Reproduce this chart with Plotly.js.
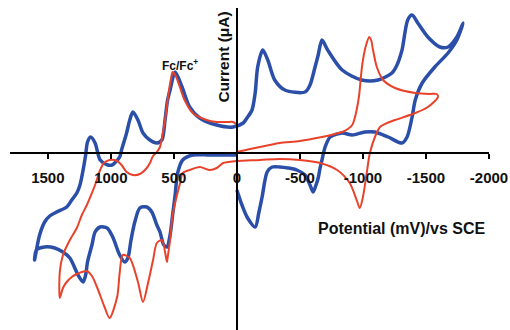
<!DOCTYPE html>
<html>
<head>
<meta charset="utf-8">
<script src="https://cdn.plot.ly/plotly-3.0.1.min.js"></script>
<style>html,body{margin:0;padding:0;background:#fff;}#chart{width:510px;height:330px;}</style>
</head>
<body>
<div id="chart"></div>
<script>
// Potential in mV (vs SCE), current in arbitrary units (uA scale)
const tickValues = [1500, 1000, 500, 0, -500, -1000, -1500, -2000];
const tickLabels = ["1500", "1000", "500", "0", "-500", "-1000", "-1500", "-2000"];

const bluePotential = [
  0,-40,-85,-145,-175,-200,-240,-280,-340,-405,-475,-540,-580,-605,-625,-645,-660,-675,-700,-740,
  -835,-915,-1015,-1095,-1200,-1310,-1350,-1390,-1415,-1470,-1570,-1675,-1745,-1795,
  -1745,-1675,-1610,-1515,-1435,-1390,-1355,-1310,-1270,-1230,-1120,-990,-835,-720,-675,-645,-620,-580,-540,-380,
  -300,-245,-205,-165,-145,-120,-80,-50,30,160,295,375,435,490,530,550,570,595,635,690,
  745,785,825,850,875,915,930,970,990,1025,1085,1125,1160,1185,1200,1220,1245,1270,1310,1350,
  1430,1485,1525,1565,1605,
  1590,1525,1445,1380,1325,1260,1220,1200,1185,1150,1125,1085,1030,985,930,890,865,840,810,770,
  715,675,635,610,580,555,530,510,490,470,430,350,215,0
];
const blueCurrent = [
  -3.7,-5.2,-6.5,-7.4,-5.9,-4.4,-1.9,-1.4,-1.4,-1.5,-1.7,-2.2,-3.2,-3.9,-3.3,-2.5,-1.5,-0.7,0.6,1.6,
  2.0,1.8,2.1,2.1,1.6,1.0,1.6,3.6,5.3,7.0,8.6,10.0,11.3,13.0,
  11.6,10.6,10.6,11.6,13.0,13.8,13.3,10.3,8.8,8.0,7.3,7.3,8.3,10.3,11.3,9.8,8.6,6.8,6.1,6.3,
  7.3,9.3,10.3,8.6,6.0,4.3,3.5,3.0,2.6,2.8,3.5,4.6,6.6,8.1,6.3,5.3,3.3,1.3,1.0,1.3,
  2.0,3.3,4.1,3.3,2.0,0.3,-0.4,-1.0,-1.2,-1.2,-0.7,1.0,1.6,1.1,-0.2,-1.7,-3.2,-4.0,-4.7,-5.4,
  -5.9,-6.3,-6.9,-8.2,-10.7,
  -9.7,-9.4,-9.5,-9.9,-10.5,-12.2,-12.9,-12.2,-10.9,-9.2,-7.9,-7.4,-7.5,-8.4,-10.2,-10.9,-10.5,-8.7,-6.9,-5.5,
  -5.4,-5.9,-7.2,-7.9,-9.2,-9.4,-8.2,-6.2,-4.2,-2.0,-0.7,-0.2,-0.2,-0.2
];

const redPotential = [
  0,-105,-220,-340,-500,-675,-780,-835,-880,-915,-935,-950,-970,-985,-1000,-1025,-1050,-1065,-1080,-1110,
  -1160,-1255,-1415,-1530,-1585,
  -1595,-1515,-1415,-1255,-1175,-1135,-1095,-1055,-1030,-1000,-975,-950,-895,-795,-660,-500,-340,-185,0,70,
  110,160,215,295,375,430,450,475,510,530,550,555,595,635,665,705,745,785,850,905,
  930,950,1010,1050,1110,1150,1190,1230,1270,1310,1350,1380,1405,
  1405,1380,1325,1270,1230,1190,1150,1125,1085,1055,1010,950,915,875,825,770,715,690,665,635,
  610,595,570,550,525,510,485,450,415,350,240,160,80,30,0
];
const redCurrent = [
  0.1,0.4,0.7,1.0,1.2,1.6,1.9,2.1,2.4,2.8,3.5,4.3,5.8,7.8,9.3,10.8,11.6,11.3,10.3,8.6,
  7.3,6.5,6.0,5.9,5.9,
  5.6,4.6,4.0,3.3,2.9,2.6,1.6,0.0,-2.0,-4.4,-5.5,-4.7,-3.0,-1.7,-1.0,-0.7,-0.6,-0.7,-0.8,-0.9,
  -1.0,-1.5,-1.7,-1.4,-1.7,-2.0,-3.0,-4.2,-6.2,-8.7,-10.5,-10.9,-8.7,-9.0,-10.7,-13.0,-14.9,-12.9,-10.5,-10.2,
  -12.0,-14.4,-16.5,-15.4,-13.4,-12.3,-11.8,-11.9,-12.1,-12.4,-12.9,-13.5,-14.5,
  -11.9,-10.2,-8.7,-7.5,-6.2,-5.2,-4.0,-3.2,-1.7,-1.0,-0.7,-0.8,-1.2,-1.9,-2.2,-2.1,-1.5,-1.0,-0.3,0.1,
  0.6,1.5,3.3,5.3,7.3,8.1,7.7,6.5,5.3,4.0,3.3,3.1,3.1,3.1,2.8
];

const FONT = '"Liberation Sans", Arial, sans-serif';

const traces = [
  {x: bluePotential, y: blueCurrent, type: 'scatter', mode: 'lines',
   line: {color: '#2b4fa8', width: 3.5, shape: 'spline', smoothing: 0.8}, hoverinfo: 'skip'},
  {x: redPotential, y: redCurrent, type: 'scatter', mode: 'lines',
   line: {color: '#e8432a', width: 2, shape: 'spline', smoothing: 0.8}, hoverinfo: 'skip'}
];

const layout = {
  width: 510, height: 330,
  margin: {l: 10, r: 21, t: 8, b: 0, pad: 0},
  paper_bgcolor: '#ffffff', plot_bgcolor: '#ffffff',
  showlegend: false,
  font: {family: FONT, color: '#111'},
  xaxis: {
    range: [1800, -2000], anchor: 'free', position: 0.5497,
    showline: true, linecolor: '#000', linewidth: 2,
    ticks: 'outside', ticklen: 5, tickwidth: 2, tickcolor: '#000',
    tickvals: tickValues, ticktext: tickLabels,
    tickfont: {family: FONT, size: 15, color: '#111', weight: 'bold'},
    ticklabelstandoff: 6,
    showgrid: false, zeroline: false, fixedrange: true
  },
  yaxis: {
    range: [-17.7, 14.5], anchor: 'free', position: 0.4739,
    showline: true, linecolor: '#000', linewidth: 2,
    ticks: '', showticklabels: false,
    showgrid: false, zeroline: false, fixedrange: true
  },
  annotations: [
    {text: 'Potential (mV)/vs SCE', xref: 'paper', yref: 'paper', x: 0.818, y: 0.3137,
     showarrow: false, xanchor: 'center', yanchor: 'middle',
     font: {family: FONT, size: 16, color: '#111', weight: 'bold'}},
    {text: 'Current (μA)', xref: 'paper', yref: 'paper', x: 0.4468, y: 0.846, textangle: -90,
     showarrow: false, xanchor: 'center', yanchor: 'middle',
     font: {family: FONT, size: 15.5, color: '#111', weight: 'bold'}},
    {text: 'Fc/Fc<sup>+</sup>', xref: 'paper', yref: 'paper', x: 0.355, y: 0.823,
     showarrow: false, xanchor: 'center', yanchor: 'middle',
     font: {family: FONT, size: 12, color: '#111', weight: 'bold'}}
  ]
};

Plotly.newPlot('chart', traces, layout, {displayModeBar: false, staticPlot: true});
</script>
</body>
</html>
